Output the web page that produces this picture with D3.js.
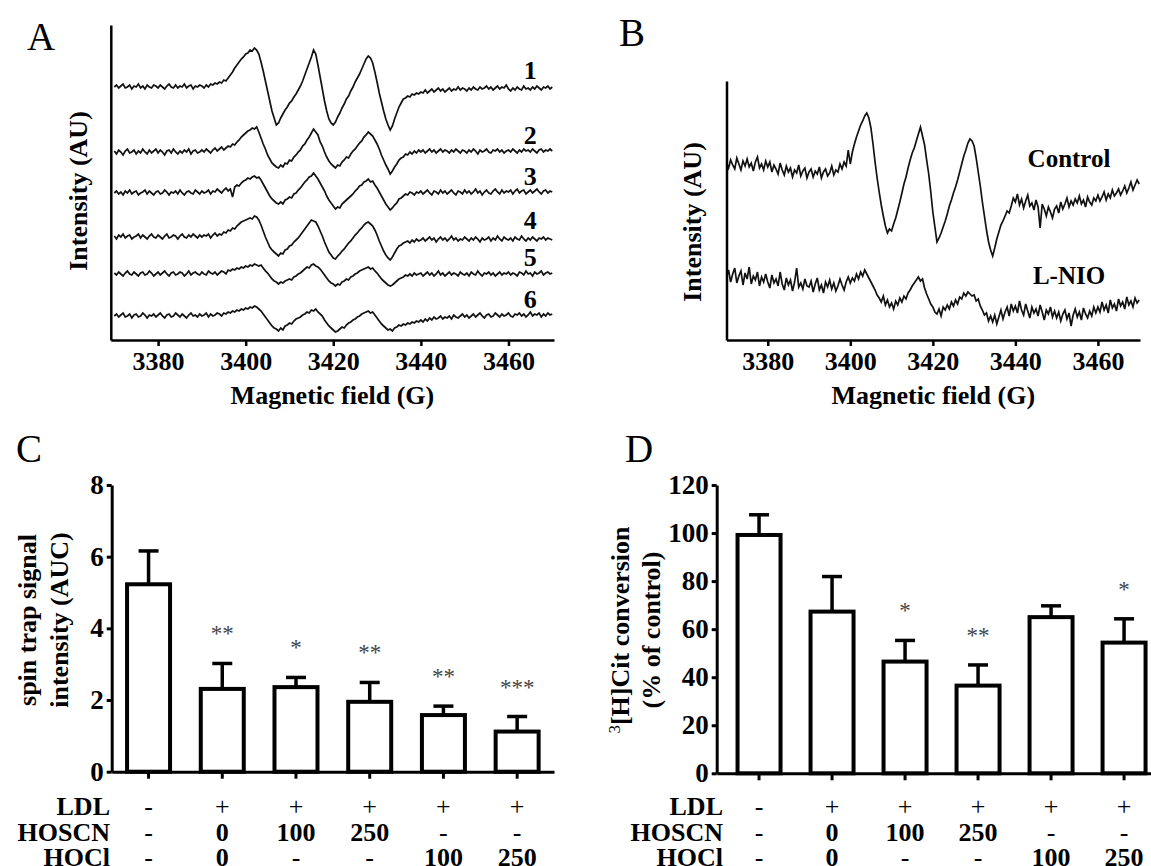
<!DOCTYPE html>
<html>
<head>
<meta charset="utf-8">
<script src="https://cdn.jsdelivr.net/npm/d3@7"></script>
<style>
  body { margin: 0; background: #fff; }
  svg text { font-family: "Liberation Serif", "Times New Roman", serif; fill: #000; }
</style>
</head>
<body>
<div id="figure"></div>
<script>
// ---- EPR spectra (panel A), sampled every 0.5 G from 3370 G, relative to each trace's baseline ----
const fieldStart = 3370;
const fieldStep = 0.5;
const fieldTicks = [3380, 3400, 3420, 3440, 3460];

const trace1 = [
  0, 2, -1, 1, 3, -1, 0, 2, -2, 1, 0, 3, -1, 1, -2, 2, 0, -1, 2, 1,
  -1, 2, 0, -2, 1, 3, 0, -1, 2, -1, 1, 0, 3, -1, 1, 2, -2, 1, 0, 2,
  1, -1, 2, 0, 3, 2, 4, 3, 5, 4, 7, 6, 9, 12, 15, 19, 22, 25, 28, 30,
  33, 34, 37, 36, 39, 37, 33, 25, 16, 6, -4, -14, -24, -31, -38, -36, -31, -27, -23, -20,
  -16, -14, -10, -7, -3, 1, 6, 12, 18, 24, 30, 37, 33, 22, 10, -2, -14, -24, -32, -36,
  -38, -35, -30, -26, -21, -17, -12, -9, -4, 0, 5, 9, 13, 18, 23, 28, 31, 29, 24, 15,
  5, -6, -15, -24, -32, -38, -43, -39, -32, -26, -20, -16, -12, -11, -9, -10, -7, -8, -6, -7,
  -5, -6, -3, -6, -4, -2, -5, -3, -1, -4, -2, -5, -3, -1, -4, -2, -3, 0, -3, -1,
  -2, -4, -1, -3, 0, -2, -3, 0, -2, -1, 1, -2, 0, -3, -1, 1, -2, 0, -1, 2,
  -2, -4, -1, -3, 0, -2, -3, 1, -2, -1, -3, 0, -2, 1, -1, -3, 0, -1, 1, -2,
  0
];
const trace2 = [
  1, -2, 2, 0, -3, 1, 3, -1, 0, 2, -2, 1, -1, 3, 0, -2, 2, -1, 1, 3,
  -1, 2, 0, -3, 1, 2, -1, 3, 0, -2, 1, -1, 2, 0, 3, -2, 1, 2, -1, 0,
  2, 0, 3, 1, -1, 2, 4, 1, 3, 5, 2, 4, 6, 5, 8, 7, 10, 12, 15, 17,
  19, 21, 22, 24, 23, 25, 20, 14, 8, 3, -3, -7, -11, -13, -15, -16, -13, -15, -11, -12,
  -8, -9, -5, -3, 0, 2, 6, 8, 12, 15, 19, 23, 20, 17, 10, 6, 0, -5, -9, -12,
  -14, -16, -13, -14, -10, -8, -5, -6, -2, 1, 3, 6, 9, 11, 15, 17, 20, 18, 16, 12,
  8, 3, -3, -8, -13, -17, -22, -19, -15, -12, -8, -6, -5, -2, -3, 0, -2, 1, -1, 2,
  0, 2, -1, 1, 3, 0, 2, -1, 1, 3, 0, 2, 1, -1, 2, 0, 3, 1, -1, 2,
  1, -1, 2, 0, 3, 1, -2, 2, 0, 1, 3, 0, -1, 2, 1, 3, 0, 2, -1, 1,
  2, 0, 3, 1, -1, 2, 0, 3, 1, 2, 0, 3, 1, -1, 2, 3, 0, 2, 1, 3,
  1
];
const trace3 = [
  0, 2, -1, 1, -2, 2, 0, 3, -1, 1, 2, -2, 0, 1, 3, -1, 2, 0, -2, 1,
  2, -1, 0, 3, 1, -2, 1, 0, 2, -1, 3, 0, -2, 1, 2, 0, -1, 3, 1, -1,
  2, 0, 1, 3, -1, 2, 1, 4, 2, 0, 3, 5, 2, 4, -4, 6, 8, 7, 10, 12,
  13, 15, 14, 16, 17, 15, 16, 13, 9, 5, 1, -3, -6, -8, -10, -11, -9, -11, -7, -6,
  -4, -5, -1, 0, 3, 5, 8, 11, 13, 16, 17, 20, 17, 14, 10, 6, 2, -3, -7, -10,
  -13, -16, -14, -15, -11, -9, -7, -5, -3, -1, 2, 4, 7, 8, 11, 12, 14, 11, 12, 8,
  5, 1, -3, -7, -11, -14, -17, -15, -12, -10, -6, -5, -3, -1, -2, 1, 0, -2, 1, 0,
  2, -1, 1, 3, 0, -2, 2, 1, -1, 3, 0, 2, -1, 1, 3, 0, -2, 2, 1, -1,
  3, 0, 2, -1, 1, 4, 0, 2, -2, 1, 3, 0, -1, 2, 4, 1, -1, 3, 0, 2,
  1, 3, -1, 2, 4, 0, 2, 3, -1, 1, 3, 0, 2, 4, 1, -1, 2, 3, 0, 2,
  1
];
const trace4 = [
  1, -2, 2, 0, 3, -1, 1, 2, -2, 0, 1, 3, -1, 2, 0, -2, 1, 3, 0, -1,
  2, 0, -2, 1, 3, -1, 0, 2, 1, -2, 1, 3, 0, -1, 2, 0, 3, 1, -1, 2,
  0, 2, 1, 3, -1, 2, 4, 1, 3, 2, 5, 4, 7, 6, 9, 8, 11, 13, 15, 16,
  17, 18, 19, 18, 21, 20, 17, 12, 6, 0, -5, -10, -13, -15, -17, -19, -16, -17, -13, -12,
  -9, -8, -5, -3, -1, 2, 5, 8, 11, 14, 17, 16, 15, 11, 6, 1, -5, -10, -15, -18,
  -21, -22, -19, -17, -14, -12, -9, -6, -4, -1, 2, 4, 7, 9, 12, 14, 15, 13, 11, 7,
  2, -4, -9, -14, -18, -21, -23, -20, -16, -12, -9, -8, -6, -5, -4, -6, -3, -5, -2, -4,
  -3, -1, -4, -2, 0, -3, -1, -5, -2, 0, -3, -1, -4, -2, 1, -3, -1, -4, -2, -3,
  0, -2, -4, -1, -3, 0, -2, -5, -1, -3, -2, 0, -4, -1, -3, 1, -2, -4, 0, -2,
  -3, -1, -4, 0, -2, -3, 1, -2, -4, -1, -3, 0, -2, -4, -1, -2, 0, -3, -1, -2,
  -3
];
const trace5 = [
  1, -1, 2, 0, -2, 1, 3, 0, -1, 2, 0, -2, 1, 2, -1, 0, 3, 1, -2, 0,
  2, -1, 1, 3, 0, -2, 1, 2, -1, 0, 2, 1, -2, 0, 3, -1, 1, 2, 0, -1,
  2, 0, -1, 3, 1, 0, 2, -1, 1, 3, 2, 0, 4, 3, 5, 4, 6, 5, 7, 6,
  8, 7, 9, 8, 10, 9, 8, 9, 6, 3, 1, -2, -5, -7, -8, -10, -8, -9, -7, -6,
  -5, -6, -3, -2, 0, 1, 3, 5, 7, 6, 9, 10, 8, 7, 5, 2, -1, -4, -7, -9,
  -10, -12, -10, -11, -8, -7, -5, -6, -3, -2, 0, 1, 3, 4, 5, 6, 7, 5, 6, 3,
  1, -2, -5, -7, -9, -11, -12, -11, -9, -7, -5, -4, -3, -1, -2, 0, -2, 1, -1, 0,
  1, -2, 0, 2, -1, 1, -2, 0, 3, -1, 1, -2, 0, 2, -1, 1, 0, -2, 2, 0,
  -1, 1, -2, 2, 0, -1, 3, 0, -2, 1, 0, 2, -1, 1, -2, 0, 2, -1, 1, 0,
  2, -1, 1, 0, -2, 2, 1, -1, 3, 0, 1, -2, 2, 0, 1, 3, -1, 1, 2, 0,
  1
];
const trace6 = [
  0, 2, -1, 1, 3, -1, 0, 2, -2, 1, 2, -1, 0, 3, 1, -2, 1, 0, 2, -1,
  1, 3, 0, -2, 1, 2, -1, 0, 3, 1, -1, 2, 0, -2, 1, 3, 0, 1, -1, 2,
  0, 1, 3, -1, 2, 0, 1, 3, 2, 0, 3, 2, 4, 3, 5, 4, 6, 5, 7, 6,
  8, 7, 9, 8, 10, 9, 7, 5, 2, -1, -4, -7, -10, -12, -13, -15, -12, -14, -10, -9,
  -7, -8, -5, -3, -2, -1, 1, 2, 4, 3, 6, 5, 7, 4, 2, 0, -4, -7, -10, -12,
  -14, -16, -15, -13, -11, -12, -9, -7, -6, -4, -3, -1, 0, 2, 3, 4, 5, 3, 4, 1,
  -2, -5, -8, -10, -12, -14, -13, -15, -12, -11, -9, -10, -8, -9, -7, -8, -6, -7, -5, -6,
  -4, -6, -3, -5, -2, -4, -1, -3, -2, 0, -3, -1, -2, 0, -3, 1, -1, -2, 0, 2,
  -1, 1, -2, 0, 2, -1, 1, 3, 0, -2, 1, 2, -1, 0, 3, 1, -1, 2, 0, 1,
  3, 0, -1, 2, 1, 3, 0, 2, -1, 1, 4, 0, 2, 1, 3, -1, 2, 0, 3, 1,
  2
];
const tracesA = [trace1, trace2, trace3, trace4, trace5, trace6];
const traceNamesA = ["1", "2", "3", "4", "5", "6"];
const traceOffsetsA = [253, 188, 147, 103, 66, 24];   // vertical stacking, AU

// ---- EPR spectra (panel B), same sampling ----
const spectrumControl = [
  177, 172, 180, 175, 171, 182, 176, 170, 179, 174, 181, 173, 177, 169, 178, 183, 172, 176, 170, 179,
  173, 178, 168, 175, 171, 166, 177, 170, 165, 174, 168, 172, 163, 170, 167, 175, 164, 169, 172, 162,
  168, 171, 163, 169, 166, 173, 162, 168, 171, 164, 167, 174, 165, 170, 168, 176, 171, 178, 174, 190,
  176, 188, 196, 203, 209, 215, 219, 224, 227, 222, 212, 196, 178, 162, 148, 135, 124, 114, 107, 111,
  109, 116, 122, 130, 138, 147, 156, 163, 172, 180, 187, 192, 199, 206, 213, 204, 195, 180, 166, 148,
  128, 113, 98, 102, 107, 113, 119, 126, 134, 140, 147, 153, 160, 168, 176, 184, 190, 197, 201, 199,
  194, 182, 168, 154, 138, 124, 110, 98, 90, 84, 92, 101, 108, 115, 119, 124, 129, 127, 134, 142,
  138, 146, 135, 141, 132, 139, 145, 134, 137, 130, 140, 133, 112, 136, 131, 124, 133, 128, 122, 131,
  134, 127, 138, 131, 136, 142, 133, 139, 135, 141, 137, 144, 136, 140, 133, 143, 138, 135, 142, 139,
  145, 139, 143, 148, 140, 146, 142, 150, 144, 147, 151, 145, 149, 154, 147, 152, 158, 150, 155, 160,
  156
];
const spectrumLNIO = [
  63, 70, 58, 66, 72, 57, 64, 69, 55, 67, 61, 73, 56, 64, 60, 68, 54, 63, 58, 66,
  58, 52, 65, 57, 61, 54, 68, 56, 50, 62, 55, 60, 49, 58, 72, 53, 57, 51, 61, 54,
  53, 59, 48, 56, 62, 50, 55, 47, 58, 53, 60, 51, 57, 49, 54, 61, 55, 50, 58, 63,
  57, 62, 59, 66, 61, 68, 64, 70, 66, 62, 58, 54, 50, 45, 42, 38, 44, 35, 40, 33,
  37, 31, 39, 35, 42, 38, 44, 41, 47, 50, 54, 57, 60, 63, 59, 61, 52, 46, 41, 36,
  33, 28, 26, 31, 24, 33, 30, 35, 31, 38, 34, 40, 36, 43, 41, 47, 44, 48, 46, 44,
  45, 39, 41, 34, 30, 25, 27, 19, 24, 18, 25, 16, 23, 30, 21, 28, 33, 24, 36, 29,
  34, 27, 39, 30, 25, 36, 29, 22, 33, 27, 31, 24, 35, 28, 20, 30, 26, 33, 23, 29,
  22, 28, 19, 26, 30, 21, 27, 14, 25, 31, 23, 28, 20, 32, 26, 22, 29, 24, 33, 27,
  33, 28, 38, 30, 35, 27, 40, 32, 36, 29, 41, 34, 38, 31, 43, 35, 39, 33, 42, 37,
  40
];
const traceNamesB = ["Control", "L-NIO"];
const traceLabelLevelsB = [173, 56];

// ---- bar charts (panels C and D) ----
const groupRows = ["LDL", "HOSCN", "HOCl"];
const ldlRow = ["-", "+", "+", "+", "+", "+"];
const hoscnRow = ["-", "0", "100", "250", "-", "-"];
const hoclRow = ["-", "0", "-", "-", "100", "250"];

const spinMeans = [5.23, 2.31, 2.36, 1.95, 1.58, 1.12];
const spinErrors = [0.93, 0.71, 0.27, 0.54, 0.25, 0.42];
const spinStars = ["", "**", "*", "**", "**", "***"];
const spinTicks = [0, 2, 4, 6, 8];

const citMeans = [99.2, 67.3, 46.5, 36.5, 65.0, 54.4];
const citErrors = [8.4, 14.6, 8.8, 8.6, 4.7, 9.9];
const citStars = ["", "", "*", "**", "", "*"];
const citTicks = [0, 20, 40, 60, 80, 100, 120];

const svg = d3.select("#figure").append("svg")
  .attr("width", 1151)
  .attr("height", 866);

function panelLetter(letter, x, y) {
  svg.append("text")
    .attr("x", x).attr("y", y)
    .attr("font-size", 39)
    .text(letter);
}

function styleAxis(g, width) {
  g.select(".domain").attr("stroke", "#000").attr("stroke-width", width);
  g.selectAll(".tick line").attr("stroke", "#000").attr("stroke-width", width);
  g.selectAll(".tick text")
    .attr("fill", "#000")
    .attr("font-size", 26)
    .attr("font-weight", "bold")
    .style("font-family", '"Liberation Serif", "Times New Roman", serif');
}

function drawSpectra(p) {
  const x = d3.scaleLinear().domain(p.field).range([p.left, p.right]);
  const y = d3.scaleLinear().domain([0, p.bottom - p.top]).range([p.bottom, p.top]);

  const line = d3.line()
    .x((d, i) => x(fieldStart + i * fieldStep))
    .y(d => y(d));

  p.series.forEach(s => {
    svg.append("path")
      .datum(s.values.map(v => v + s.offset))
      .attr("fill", "none")
      .attr("stroke", "#111")
      .attr("stroke-width", p.lineWidth)
      .attr("d", line);

    svg.append("text")
      .attr("x", x(p.labelField))
      .attr("y", y(s.labelLevel))
      .attr("text-anchor", "middle")
      .attr("font-size", p.labelSize)
      .attr("font-weight", "bold")
      .text(s.name);
  });

  const xAxis = svg.append("g")
    .attr("transform", `translate(0,${p.bottom})`)
    .call(d3.axisBottom(x).tickValues(fieldTicks).tickFormat(d3.format("d"))
      .tickSize(6).tickSizeOuter(0).tickPadding(6));
  styleAxis(xAxis, 2.5);

  const yAxis = svg.append("g")
    .attr("transform", `translate(${p.left},0)`)
    .call(d3.axisLeft(y).tickValues([]).tickSizeOuter(0));
  styleAxis(yAxis, 2.5);

  svg.append("text")
    .attr("x", (p.left + p.right) / 2)
    .attr("y", p.bottom + 64)
    .attr("text-anchor", "middle")
    .attr("font-size", 26)
    .attr("font-weight", "bold")
    .text("Magnetic field (G)");

  svg.append("text")
    .attr("transform", `translate(${p.yLabelX},${p.yLabelY}) rotate(-90)`)
    .attr("text-anchor", "middle")
    .attr("font-size", 26)
    .attr("font-weight", "bold")
    .text("Intensity (AU)");
}

function drawBars(p) {
  const cols = d3.range(p.means.length);
  const x = d3.scaleBand().domain(cols).range([p.left, p.right])
    .paddingInner(0).paddingOuter(p.outer);
  const y = d3.scaleLinear().domain([0, p.max]).range([p.bottom, p.top]);
  const cx = i => x(i) + x.bandwidth() / 2;
  const barW = 43, capW = 20;

  // bars
  svg.selectAll(null)
    .data(p.means)
    .enter()
    .append("rect")
    .attr("x", (d, i) => cx(i) - barW / 2)
    .attr("y", d => y(d))
    .attr("width", barW)
    .attr("height", d => y(0) - y(d))
    .attr("fill", "#fff")
    .attr("stroke", "#000")
    .attr("stroke-width", 4);

  // error bars (upper only)
  p.means.forEach((m, i) => {
    const top = y(m + p.errors[i]);
    svg.append("line")
      .attr("x1", cx(i)).attr("x2", cx(i))
      .attr("y1", y(m)).attr("y2", top)
      .attr("stroke", "#000").attr("stroke-width", 3.5);
    svg.append("line")
      .attr("x1", cx(i) - capW / 2).attr("x2", cx(i) + capW / 2)
      .attr("y1", top).attr("y2", top)
      .attr("stroke", "#000").attr("stroke-width", 3.5);
    if (p.stars[i]) {
      svg.append("text")
        .attr("x", cx(i))
        .attr("y", top - 22)
        .attr("text-anchor", "middle")
        .attr("font-size", 23)
        .style("fill", "#444")
        .text(p.stars[i]);
    }
  });

  const xAxis = svg.append("g")
    .attr("transform", `translate(0,${p.bottom})`)
    .call(d3.axisBottom(x).tickSize(7).tickSizeOuter(0).tickFormat(""));
  styleAxis(xAxis, 3);

  const yAxis = svg.append("g")
    .attr("transform", `translate(${p.left},0)`)
    .call(d3.axisLeft(y).tickValues(p.ticks).tickSize(5).tickSizeOuter(0).tickPadding(3));
  styleAxis(yAxis, 3);
  yAxis.selectAll(".tick text").attr("font-size", 27);

  // treatment table under the bars
  const rows = [ldlRow, hoscnRow, hoclRow];
  rows.forEach((row, k) => {
    const ry = p.rowY + k * 25.5;
    svg.append("text")
      .attr("x", p.rowLabelX).attr("y", ry)
      .attr("text-anchor", "end")
      .attr("font-size", 26)
      .attr("font-weight", "bold")
      .text(groupRows[k]);
    row.forEach((cell, i) => {
      const isSign = cell === "+" || cell === "-";
      svg.append("text")
        .attr("x", cx(i)).attr("y", ry)
        .attr("text-anchor", "middle")
        .attr("font-size", 26)
        .attr("font-weight", isSign ? "normal" : "bold")
        .text(cell);
    });
  });

  // y label, two lines
  p.yLabel(svg.append("text")
    .attr("transform", `translate(${p.yLabelX},${p.yLabelY}) rotate(-90)`)
    .attr("text-anchor", "middle")
    .attr("font-size", 26)
    .attr("font-weight", "bold"));
}

// Panel A
panelLetter("A", 27, 50);
drawSpectra({
  field: [3369.2, 3470.4], left: 110.8, right: 554, top: 25, bottom: 340,
  lineWidth: 1.7, labelField: 3465, labelSize: 26,
  yLabelX: 87, yLabelY: 191,
  series: tracesA.map((v, i) => ({
    values: v, offset: traceOffsetsA[i], name: traceNamesA[i], labelLevel: traceOffsetsA[i] + 8
  }))
});

// Panel B
panelLetter("B", 619, 46);
drawSpectra({
  field: [3370, 3470.2], left: 726.5, right: 1140, top: 81, bottom: 340,
  lineWidth: 1.7, labelField: 3453, labelSize: 25,
  yLabelX: 701, yLabelY: 222,
  series: [
    { values: spectrumControl, offset: 0, name: traceNamesB[0], labelLevel: traceLabelLevelsB[0] },
    { values: spectrumLNIO, offset: 0, name: traceNamesB[1], labelLevel: traceLabelLevelsB[1] }
  ]
});

// Panel C
panelLetter("C", 16, 462);
drawBars({
  means: spinMeans, errors: spinErrors, stars: spinStars, ticks: spinTicks, max: 8,
  left: 111.7, right: 554, outer: 0, top: 485, bottom: 771.7,
  rowY: 815, rowLabelX: 110,
  yLabelX: 36, yLabelY: 620,
  yLabel: t => {
    t.append("tspan").attr("x", 0).attr("dy", 0).text("spin trap signal");
    t.append("tspan").attr("x", 0).attr("dy", 31.5).text("intensity (AUC)");
  }
});

// Panel D
panelLetter("D", 625, 462);
drawBars({
  means: citMeans, errors: citErrors, stars: citStars, ticks: citTicks, max: 120,
  left: 716.7, right: 1166.4, outer: 0.08, top: 485, bottom: 773.3,
  rowY: 815, rowLabelX: 723,
  yLabelX: 629, yLabelY: 630,
  yLabel: t => {
    const l1 = t.append("tspan").attr("x", 0).attr("dy", 0);
    l1.append("tspan").attr("font-weight", "normal").attr("font-size", 17)
      .attr("baseline-shift", "super").text("3");
    l1.append("tspan").text("[H]Cit conversion");
    t.append("tspan").attr("x", 0).attr("dy", 31).text("(% of control)");
  }
});
</script>
</body>
</html>
